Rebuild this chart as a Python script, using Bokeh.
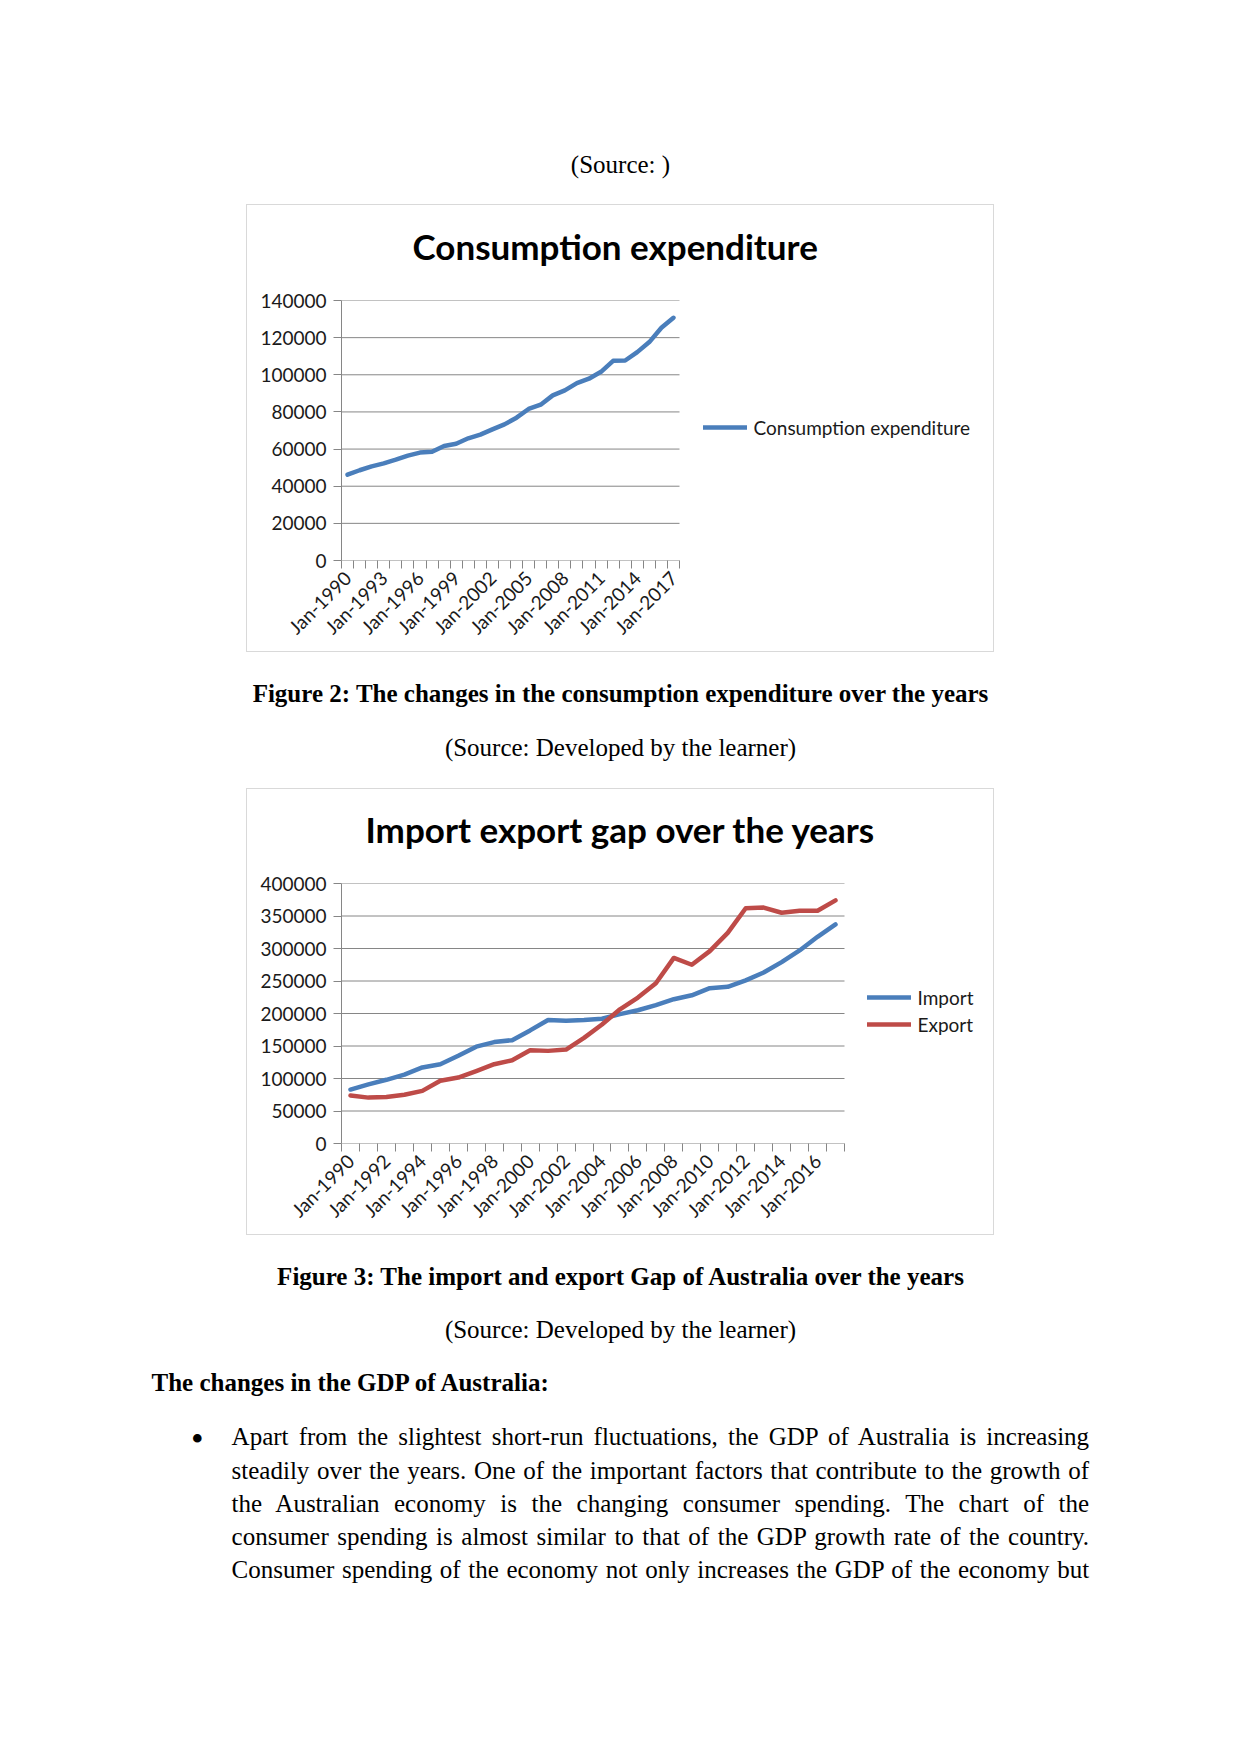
import math
from bokeh.plotting import figure
from bokeh.models import (ColumnDataSource, Range1d, FixedTicker, Legend, LegendItem,
                          Div, Spacer, Title, BasicTickFormatter)
from bokeh.layouts import column, row
from bokeh.embed import file_html
from bokeh.resources import INLINE

# ---------------- data ----------------
years = list(range(1990, 2018))
consumption = [46200, 48600, 50700, 52300, 54300, 56500, 58100, 58600, 61700, 62900,
               65800, 67800, 70600, 73300, 76900, 81600, 83900, 88900, 91600, 95500,
               97900, 101600, 107500, 107700, 112200, 117600, 125300, 130700]
imports = [83000, 91000, 98000, 106000, 117000, 122000, 135000, 149000, 156000, 159000,
           174000, 190000, 189000, 190000, 192000, 199000, 205000, 213000, 222000, 228000,
           239000, 241000, 251000, 263000, 279000, 297000, 318000, 337000]
exports = [74000, 70600, 71600, 75000, 81000, 96500, 101500, 111500, 122000, 128000,
           143500, 142500, 144500, 162500, 183000, 206500, 224500, 246500, 285500, 275000,
           296000, 324000, 362000, 363000, 355000, 358000, 358000, 374000]

chart1_label_years = [1990, 1993, 1996, 1999, 2002, 2005, 2008, 2011, 2014, 2017]
chart2_label_years = [1990, 1992, 1994, 1996, 1998, 2000, 2002, 2004, 2006, 2008,
                      2010, 2012, 2014, 2016]
chart1_yticks = [0, 20000, 40000, 60000, 80000, 100000, 120000, 140000]
chart2_yticks = [0, 50000, 100000, 150000, 200000, 250000, 300000, 350000, 400000]

title1 = "Consumption expenditure"
title2 = "Import export gap over the years"

BLUE = "#4A7EBB"
RED = "#BE4B48"
GRID = "#868686"
FONT = "Lato"
SERIF = "'Liberation Serif', 'Times New Roman', serif"


def make_chart(title, series, label_years, yticks, ymax, plot_w, frame_w, fh,
               left, top, bottom, title_offset, leg_loc):
    x0 = years[0]
    x1 = years[-1] + 1
    # the frame also holds the legend area on the right; data occupy plot_w pixels
    x_end = x0 + (x1 - x0) * frame_w / plot_w
    p = figure(frame_width=frame_w, frame_height=fh, output_backend="svg",
               toolbar_location=None,
               x_range=Range1d(x0, x_end), y_range=Range1d(0, ymax),
               min_border_left=left, min_border_top=top, min_border_bottom=bottom,
               min_border_right=0, title=None)
    p.outline_line_color = None
    p.background_fill_color = None
    p.border_fill_color = None

    # horizontal gridlines limited to the plot area
    p.segment(x0=[x0] * len(yticks), x1=[x1] * len(yticks), y0=yticks, y1=yticks,
              line_color=GRID, line_width=1)
    p.xgrid.visible = False
    p.ygrid.visible = False

    # y axis
    p.yaxis.ticker = FixedTicker(ticks=yticks)
    p.yaxis.formatter = BasicTickFormatter(use_scientific=False)
    p.yaxis.axis_line_color = GRID
    p.yaxis.major_tick_line_color = GRID
    p.yaxis.major_tick_out = 8
    p.yaxis.major_tick_in = 0
    p.yaxis.minor_tick_line_color = None
    p.yaxis.major_label_text_font = FONT
    p.yaxis.major_label_text_font_size = "19px"
    p.yaxis.major_label_text_color = "#1a1a1a"
    p.yaxis.major_label_standoff = 7

    # x axis: labels at category centres, tick marks on category boundaries
    centres = [y + 0.5 for y in label_years]
    bounds = list(range(x0, x1 + 1))
    p.xaxis.ticker = FixedTicker(ticks=centres, minor_ticks=bounds)
    p.xaxis.major_label_overrides = {c: f"Jan-{y}" for c, y in zip(centres, label_years)}
    p.xaxis.major_tick_out = 0
    p.xaxis.major_tick_in = 0
    p.xaxis.minor_tick_out = 8
    p.xaxis.minor_tick_in = 0
    p.xaxis.minor_tick_line_color = GRID
    p.xaxis.axis_line_color = None
    p.xaxis.major_label_orientation = math.pi / 4
    p.xaxis.major_label_text_font = FONT
    p.xaxis.major_label_text_font_size = "19px"
    p.xaxis.major_label_text_color = "#1a1a1a"
    p.xaxis.major_label_standoff = 6

    items = []
    for name, vals, color in series:
        src = ColumnDataSource(dict(x=[y + 0.5 for y in years], v=vals))
        r = p.line("x", "v", source=src, line_color=color, line_width=4.5,
                   line_join="round", line_cap="round")
        items.append(LegendItem(label=name, renderers=[r]))

    legend = Legend(items=items, location=leg_loc, margin=0, padding=10,
                    border_line_color=None, background_fill_alpha=0,
                    glyph_width=44, glyph_height=24, label_height=24, spacing=3,
                    label_standoff=7, label_text_font=FONT,
                    label_text_font_size="19px", label_text_color="#1a1a1a")
    p.add_layout(legend, "center")

    # spacing panel between the plot area and the title
    p.add_layout(Title(text=" ", text_font_size="16px", standoff=15), "above")
    p.add_layout(Title(text=title, align="left", offset=title_offset, standoff=0,
                       text_font=FONT, text_font_style="bold", text_font_size="35px",
                       text_color="#000000"), "above")
    return p


# chart 1: box 748x448, plot area 338x260 at (95, 96)
p1 = make_chart(title1, [("Consumption expenditure", consumption, BLUE)],
                chart1_label_years, chart1_yticks, 140000,
                338, 653, 260, 95, 96, 92, 71, (361.5, 121))
# chart 2: box 748x447, plot area 503x260 at (95, 95)
p2 = make_chart(title2, [("Import", imports, BLUE), ("Export", exports, RED)],
                chart2_label_years, chart2_yticks, 400000,
                503, 653, 260, 95, 95, 92, 24, (525.5, 107))

BOX_STYLE = {"outline": "1px solid #D9D9D9", "outline-offset": "-1px",
             "box-shadow": "inset 0 0 0 1px #D9D9D9", "background": "white"}


def boxed(p, h):
    return row(p, width=748, height=h, styles=BOX_STYLE)


def block(h, parts):
    inner = "".join(parts)
    return Div(width=1241, height=h, margin=0,
               text=f'<div style="position:relative;width:1241px;height:{h}px;">{inner}</div>')


def centred(text, cy, bold=False):
    lh = 30
    fw = "bold" if bold else "normal"
    return (f'<div style="position:absolute;left:0;top:{cy - lh / 2 - 1}px;width:1241px;'
            f'text-align:center;font-family:{SERIF};font-size:25px;line-height:{lh}px;'
            f'font-weight:{fw};color:#000;white-space:nowrap;">{text}</div>')


def left_text(text, x, cy, bold=False, width=None, justify=False, size=25):
    lh = 30
    fw = "bold" if bold else "normal"
    extra = ""
    if width:
        extra = f"width:{width}px;"
    if justify:
        extra += "text-align:justify;text-align-last:justify;"
    return (f'<div style="position:absolute;left:{x}px;top:{cy - lh / 2 - 1}px;{extra}'
            f'font-family:{SERIF};font-size:{size}px;line-height:{lh}px;'
            f'font-weight:{fw};color:#000;white-space:nowrap;">{text}</div>')


para_lines = [
    "Apart from the slightest short-run fluctuations, the GDP of Australia is increasing",
    "steadily over the years. One of the important factors that contribute to the growth of",
    "the Australian economy is the changing consumer spending. The chart of the",
    "consumer spending is almost similar to that of the GDP growth rate of the country.",
    "Consumer spending of the economy not only increases the GDP of the economy but",
]
para_y = [203, 236.5, 270, 302.5, 336]

top_block = block(204, [centred("(Source: )", 165.6)])
mid_block = block(136, [
    centred("Figure 2: The changes in the consumption expenditure over the years", 43, bold=True),
    centred("(Source: Developed by the learner)", 96.6),
])
bottom_parts = [
    centred("Figure 3: The import and export Gap of Australia over the years", 43, bold=True),
    centred("(Source: Developed by the learner)", 95.5),
    left_text("The changes in the GDP of Australia:", 151.5, 149, bold=True),
    left_text("&#8226;", 191, 205, size=36),
]
for ln, y in zip(para_lines, para_y):
    bottom_parts.append(left_text(ln, 231.6, y, width=857.5, justify=True))
bottom_block = block(500, bottom_parts)

page = column(
    top_block,
    row(Spacer(width=246, height=448), boxed(p1, 448), spacing=0),
    mid_block,
    row(Spacer(width=246, height=447), boxed(p2, 447), spacing=0),
    bottom_block,
    spacing=0,
)

open("out.html", "w").write(file_html(page, INLINE))
